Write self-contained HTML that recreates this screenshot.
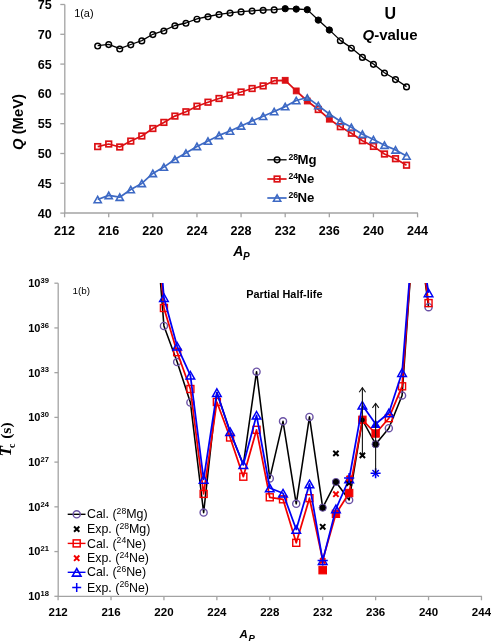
<!DOCTYPE html>
<html><head><meta charset="utf-8"><title>Q-value and partial half-life</title>
<style>
html,body{margin:0;padding:0;background:#fff;}
body{width:491px;height:641px;overflow:hidden;font-family:"Liberation Sans", sans-serif;}
svg{display:block;will-change:transform;}
</style></head>
<body>
<svg width="491" height="641" viewBox="0 0 491 641">
<rect width="491" height="641" fill="#fff"/>
<g>
<line x1="64.8" y1="4.5" x2="64.8" y2="213.1" stroke="#a3a3a3" stroke-width="1.3"/>
<line x1="64.2" y1="213" x2="417.9" y2="213" stroke="#a3a3a3" stroke-width="1.3"/>
<line x1="60.3" y1="4.5" x2="64.8" y2="4.5" stroke="#a3a3a3" stroke-width="1.3"/>
<text x="51.7" y="9" font-family='"Liberation Sans", sans-serif' font-size="12.6" font-weight="bold" font-style="normal" text-anchor="end" fill="#000" >75</text>
<line x1="60.3" y1="34.3" x2="64.8" y2="34.3" stroke="#a3a3a3" stroke-width="1.3"/>
<text x="51.7" y="38.8" font-family='"Liberation Sans", sans-serif' font-size="12.6" font-weight="bold" font-style="normal" text-anchor="end" fill="#000" >70</text>
<line x1="60.3" y1="64.1" x2="64.8" y2="64.1" stroke="#a3a3a3" stroke-width="1.3"/>
<text x="51.7" y="68.6" font-family='"Liberation Sans", sans-serif' font-size="12.6" font-weight="bold" font-style="normal" text-anchor="end" fill="#000" >65</text>
<line x1="60.3" y1="93.9" x2="64.8" y2="93.9" stroke="#a3a3a3" stroke-width="1.3"/>
<text x="51.7" y="98.4" font-family='"Liberation Sans", sans-serif' font-size="12.6" font-weight="bold" font-style="normal" text-anchor="end" fill="#000" >60</text>
<line x1="60.3" y1="123.7" x2="64.8" y2="123.7" stroke="#a3a3a3" stroke-width="1.3"/>
<text x="51.7" y="128.2" font-family='"Liberation Sans", sans-serif' font-size="12.6" font-weight="bold" font-style="normal" text-anchor="end" fill="#000" >55</text>
<line x1="60.3" y1="153.5" x2="64.8" y2="153.5" stroke="#a3a3a3" stroke-width="1.3"/>
<text x="51.7" y="158" font-family='"Liberation Sans", sans-serif' font-size="12.6" font-weight="bold" font-style="normal" text-anchor="end" fill="#000" >50</text>
<line x1="60.3" y1="183.3" x2="64.8" y2="183.3" stroke="#a3a3a3" stroke-width="1.3"/>
<text x="51.7" y="187.8" font-family='"Liberation Sans", sans-serif' font-size="12.6" font-weight="bold" font-style="normal" text-anchor="end" fill="#000" >45</text>
<line x1="60.3" y1="213.1" x2="64.8" y2="213.1" stroke="#a3a3a3" stroke-width="1.3"/>
<text x="51.7" y="217.6" font-family='"Liberation Sans", sans-serif' font-size="12.6" font-weight="bold" font-style="normal" text-anchor="end" fill="#000" >40</text>
<line x1="64.6" y1="213" x2="64.6" y2="217.3" stroke="#a3a3a3" stroke-width="1.3"/>
<text x="64.6" y="235.3" font-family='"Liberation Sans", sans-serif' font-size="12.6" font-weight="bold" font-style="normal" text-anchor="middle" fill="#000" >212</text>
<line x1="108.72" y1="213" x2="108.72" y2="217.3" stroke="#a3a3a3" stroke-width="1.3"/>
<text x="108.72" y="235.3" font-family='"Liberation Sans", sans-serif' font-size="12.6" font-weight="bold" font-style="normal" text-anchor="middle" fill="#000" >216</text>
<line x1="152.84" y1="213" x2="152.84" y2="217.3" stroke="#a3a3a3" stroke-width="1.3"/>
<text x="152.84" y="235.3" font-family='"Liberation Sans", sans-serif' font-size="12.6" font-weight="bold" font-style="normal" text-anchor="middle" fill="#000" >220</text>
<line x1="196.96" y1="213" x2="196.96" y2="217.3" stroke="#a3a3a3" stroke-width="1.3"/>
<text x="196.96" y="235.3" font-family='"Liberation Sans", sans-serif' font-size="12.6" font-weight="bold" font-style="normal" text-anchor="middle" fill="#000" >224</text>
<line x1="241.08" y1="213" x2="241.08" y2="217.3" stroke="#a3a3a3" stroke-width="1.3"/>
<text x="241.08" y="235.3" font-family='"Liberation Sans", sans-serif' font-size="12.6" font-weight="bold" font-style="normal" text-anchor="middle" fill="#000" >228</text>
<line x1="285.2" y1="213" x2="285.2" y2="217.3" stroke="#a3a3a3" stroke-width="1.3"/>
<text x="285.2" y="235.3" font-family='"Liberation Sans", sans-serif' font-size="12.6" font-weight="bold" font-style="normal" text-anchor="middle" fill="#000" >232</text>
<line x1="329.32" y1="213" x2="329.32" y2="217.3" stroke="#a3a3a3" stroke-width="1.3"/>
<text x="329.32" y="235.3" font-family='"Liberation Sans", sans-serif' font-size="12.6" font-weight="bold" font-style="normal" text-anchor="middle" fill="#000" >236</text>
<line x1="373.44" y1="213" x2="373.44" y2="217.3" stroke="#a3a3a3" stroke-width="1.3"/>
<text x="373.44" y="235.3" font-family='"Liberation Sans", sans-serif' font-size="12.6" font-weight="bold" font-style="normal" text-anchor="middle" fill="#000" >240</text>
<line x1="417.56" y1="213" x2="417.56" y2="217.3" stroke="#a3a3a3" stroke-width="1.3"/>
<text x="417.56" y="235.3" font-family='"Liberation Sans", sans-serif' font-size="12.6" font-weight="bold" font-style="normal" text-anchor="middle" fill="#000" >244</text>
</g>
<text x="233.2" y="256" font-family='"Liberation Sans", sans-serif' font-size="14" font-weight="bold" font-style="italic" text-anchor="start" fill="#000" >A</text>
<text x="243" y="259.6" font-family='"Liberation Sans", sans-serif' font-size="10" font-weight="bold" font-style="italic" text-anchor="start" fill="#000" >P</text>
<text transform="translate(22.8 122) rotate(-90)" x="0" y="0" font-family='"Liberation Sans", sans-serif' font-size="14.8" font-weight="bold" text-anchor="middle"><tspan font-style="italic">Q</tspan> (MeV)</text>
<text x="390.3" y="19.1" font-family='"Liberation Sans", sans-serif' font-size="16" font-weight="bold" font-style="normal" text-anchor="middle" fill="#000" >U</text>
<text x="390" y="39.9" font-family='"Liberation Sans", sans-serif' font-size="15" font-weight="bold" text-anchor="middle"><tspan font-style="italic">Q</tspan>-value</text>
<text x="74.2" y="17.2" font-family='"Liberation Sans", sans-serif' font-size="10.9" font-weight="normal" font-style="normal" text-anchor="start" fill="#000" >1(a)</text>
<polyline points="97.69,45.7 108.72,44.3 119.75,48.7 130.78,44.5 141.81,40.6 152.84,34.3 163.87,30.7 174.9,25.5 185.93,23 196.96,18.9 207.99,16.5 219.02,14.3 230.05,12.8 241.08,11.6 252.11,10.8 263.14,10 274.17,9.6 285.2,8.6 296.23,9 307.26,9.6 318.29,20 329.32,29.9 340.35,40.4 351.38,47.9 362.41,57.1 373.44,64 384.47,72.7 395.5,79.3 406.53,86.6" fill="none" stroke="#000" stroke-width="1.3" stroke-linejoin="round" />
<circle cx="97.69" cy="46" r="2.85" fill="none" stroke="#000" stroke-width="1.45"/>
<circle cx="108.72" cy="44.6" r="2.85" fill="none" stroke="#000" stroke-width="1.45"/>
<circle cx="119.75" cy="49" r="2.85" fill="none" stroke="#000" stroke-width="1.45"/>
<circle cx="130.78" cy="44.8" r="2.85" fill="none" stroke="#000" stroke-width="1.45"/>
<circle cx="141.81" cy="40.9" r="2.85" fill="none" stroke="#000" stroke-width="1.45"/>
<circle cx="152.84" cy="34.6" r="2.85" fill="none" stroke="#000" stroke-width="1.45"/>
<circle cx="163.87" cy="31" r="2.85" fill="none" stroke="#000" stroke-width="1.45"/>
<circle cx="174.9" cy="25.8" r="2.85" fill="none" stroke="#000" stroke-width="1.45"/>
<circle cx="185.93" cy="23.3" r="2.85" fill="none" stroke="#000" stroke-width="1.45"/>
<circle cx="196.96" cy="19.2" r="2.85" fill="none" stroke="#000" stroke-width="1.45"/>
<circle cx="207.99" cy="16.8" r="2.85" fill="none" stroke="#000" stroke-width="1.45"/>
<circle cx="219.02" cy="14.6" r="2.85" fill="none" stroke="#000" stroke-width="1.45"/>
<circle cx="230.05" cy="13.1" r="2.85" fill="none" stroke="#000" stroke-width="1.45"/>
<circle cx="241.08" cy="11.9" r="2.85" fill="none" stroke="#000" stroke-width="1.45"/>
<circle cx="252.11" cy="11.1" r="2.85" fill="none" stroke="#000" stroke-width="1.45"/>
<circle cx="263.14" cy="10.3" r="2.85" fill="none" stroke="#000" stroke-width="1.45"/>
<circle cx="274.17" cy="9.9" r="2.85" fill="none" stroke="#000" stroke-width="1.45"/>
<circle cx="285.2" cy="8.7" r="3.15" fill="#000" stroke="#000" stroke-width="1"/>
<circle cx="296.23" cy="9.1" r="3.15" fill="#000" stroke="#000" stroke-width="1"/>
<circle cx="307.26" cy="9.7" r="3.15" fill="#000" stroke="#000" stroke-width="1"/>
<circle cx="318.29" cy="20.1" r="3.15" fill="#000" stroke="#000" stroke-width="1"/>
<circle cx="329.32" cy="30" r="3.15" fill="#000" stroke="#000" stroke-width="1"/>
<circle cx="340.35" cy="40.7" r="2.85" fill="none" stroke="#000" stroke-width="1.45"/>
<circle cx="351.38" cy="48.2" r="2.85" fill="none" stroke="#000" stroke-width="1.45"/>
<circle cx="362.41" cy="57.4" r="2.85" fill="none" stroke="#000" stroke-width="1.45"/>
<circle cx="373.44" cy="64.3" r="2.85" fill="none" stroke="#000" stroke-width="1.45"/>
<circle cx="384.47" cy="73" r="2.85" fill="none" stroke="#000" stroke-width="1.45"/>
<circle cx="395.5" cy="79.6" r="2.85" fill="none" stroke="#000" stroke-width="1.45"/>
<circle cx="406.53" cy="86.9" r="2.85" fill="none" stroke="#000" stroke-width="1.45"/>
<polyline points="97.69,146.6 108.72,144 119.75,147 130.78,141.1 141.81,136 152.84,128.5 163.87,122.4 174.9,116.1 185.93,111.8 196.96,106.2 207.99,102.2 219.02,98.5 230.05,95.2 241.08,92 252.11,88.5 263.14,85.9 274.17,80.7 285.2,80.3 296.23,90.9 307.26,101 318.29,109.5 329.32,119.2 340.35,126.7 351.38,133.2 362.41,140.7 373.44,146.4 384.47,154 395.5,158.7 406.53,165.2" fill="none" stroke="#dc1014" stroke-width="1.7" stroke-linejoin="round" />
<rect x="94.89" y="143.8" width="5.6" height="5.6" fill="none" stroke="#dc1014" stroke-width="1.7"/>
<rect x="105.92" y="141.2" width="5.6" height="5.6" fill="none" stroke="#dc1014" stroke-width="1.7"/>
<rect x="116.95" y="144.2" width="5.6" height="5.6" fill="none" stroke="#dc1014" stroke-width="1.7"/>
<rect x="127.98" y="138.3" width="5.6" height="5.6" fill="none" stroke="#dc1014" stroke-width="1.7"/>
<rect x="139.01" y="133.2" width="5.6" height="5.6" fill="none" stroke="#dc1014" stroke-width="1.7"/>
<rect x="150.04" y="125.7" width="5.6" height="5.6" fill="none" stroke="#dc1014" stroke-width="1.7"/>
<rect x="161.07" y="119.6" width="5.6" height="5.6" fill="none" stroke="#dc1014" stroke-width="1.7"/>
<rect x="172.1" y="113.3" width="5.6" height="5.6" fill="none" stroke="#dc1014" stroke-width="1.7"/>
<rect x="183.13" y="109" width="5.6" height="5.6" fill="none" stroke="#dc1014" stroke-width="1.7"/>
<rect x="194.16" y="103.4" width="5.6" height="5.6" fill="none" stroke="#dc1014" stroke-width="1.7"/>
<rect x="205.19" y="99.4" width="5.6" height="5.6" fill="none" stroke="#dc1014" stroke-width="1.7"/>
<rect x="216.22" y="95.7" width="5.6" height="5.6" fill="none" stroke="#dc1014" stroke-width="1.7"/>
<rect x="227.25" y="92.4" width="5.6" height="5.6" fill="none" stroke="#dc1014" stroke-width="1.7"/>
<rect x="238.28" y="89.2" width="5.6" height="5.6" fill="none" stroke="#dc1014" stroke-width="1.7"/>
<rect x="249.31" y="85.7" width="5.6" height="5.6" fill="none" stroke="#dc1014" stroke-width="1.7"/>
<rect x="260.34" y="83.1" width="5.6" height="5.6" fill="none" stroke="#dc1014" stroke-width="1.7"/>
<rect x="271.37" y="77.9" width="5.6" height="5.6" fill="none" stroke="#dc1014" stroke-width="1.7"/>
<rect x="282.3" y="77.4" width="5.8" height="5.8" fill="#dc1014" stroke="#dc1014" stroke-width="1"/>
<rect x="293.33" y="88" width="5.8" height="5.8" fill="#dc1014" stroke="#dc1014" stroke-width="1"/>
<rect x="304.36" y="98.1" width="5.8" height="5.8" fill="#dc1014" stroke="#dc1014" stroke-width="1"/>
<rect x="315.49" y="106.7" width="5.6" height="5.6" fill="none" stroke="#dc1014" stroke-width="1.7"/>
<rect x="326.42" y="116.3" width="5.8" height="5.8" fill="#dc1014" stroke="#dc1014" stroke-width="1"/>
<rect x="337.55" y="123.9" width="5.6" height="5.6" fill="none" stroke="#dc1014" stroke-width="1.7"/>
<rect x="348.58" y="130.4" width="5.6" height="5.6" fill="none" stroke="#dc1014" stroke-width="1.7"/>
<rect x="359.61" y="137.9" width="5.6" height="5.6" fill="none" stroke="#dc1014" stroke-width="1.7"/>
<rect x="370.64" y="143.6" width="5.6" height="5.6" fill="none" stroke="#dc1014" stroke-width="1.7"/>
<rect x="381.67" y="151.2" width="5.6" height="5.6" fill="none" stroke="#dc1014" stroke-width="1.7"/>
<rect x="392.7" y="155.9" width="5.6" height="5.6" fill="none" stroke="#dc1014" stroke-width="1.7"/>
<rect x="403.73" y="162.4" width="5.6" height="5.6" fill="none" stroke="#dc1014" stroke-width="1.7"/>
<polyline points="97.69,199.5 108.72,195.4 119.75,197.2 130.78,189.5 141.81,183.4 152.84,173.4 163.87,167.1 174.9,159.3 185.93,153.1 196.96,146.4 207.99,141.1 219.02,135.4 230.05,131 241.08,125.9 252.11,121 263.14,116.3 274.17,111.5 285.2,106.6 296.23,100.5 307.26,97.5 318.29,105.6 329.32,114 340.35,121.3 351.38,127.3 362.41,134.2 373.44,139.5 384.47,145.2 395.5,149.9 406.53,156" fill="none" stroke="#3d69c4" stroke-width="1.7" stroke-linejoin="round" />
<polygon points="97.69,196.3 101.29,202.7 94.09,202.7" fill="none" stroke="#3d69c4" stroke-width="1.6" stroke-linejoin="miter"/>
<polygon points="108.72,192.2 112.32,198.6 105.12,198.6" fill="none" stroke="#3d69c4" stroke-width="1.6" stroke-linejoin="miter"/>
<polygon points="119.75,194 123.35,200.4 116.15,200.4" fill="none" stroke="#3d69c4" stroke-width="1.6" stroke-linejoin="miter"/>
<polygon points="130.78,186.3 134.38,192.7 127.18,192.7" fill="none" stroke="#3d69c4" stroke-width="1.6" stroke-linejoin="miter"/>
<polygon points="141.81,180.2 145.41,186.6 138.21,186.6" fill="none" stroke="#3d69c4" stroke-width="1.6" stroke-linejoin="miter"/>
<polygon points="152.84,170.2 156.44,176.6 149.24,176.6" fill="none" stroke="#3d69c4" stroke-width="1.6" stroke-linejoin="miter"/>
<polygon points="163.87,163.9 167.47,170.3 160.27,170.3" fill="none" stroke="#3d69c4" stroke-width="1.6" stroke-linejoin="miter"/>
<polygon points="174.9,156.1 178.5,162.5 171.3,162.5" fill="none" stroke="#3d69c4" stroke-width="1.6" stroke-linejoin="miter"/>
<polygon points="185.93,149.9 189.53,156.3 182.33,156.3" fill="none" stroke="#3d69c4" stroke-width="1.6" stroke-linejoin="miter"/>
<polygon points="196.96,143.2 200.56,149.6 193.36,149.6" fill="none" stroke="#3d69c4" stroke-width="1.6" stroke-linejoin="miter"/>
<polygon points="207.99,137.9 211.59,144.3 204.39,144.3" fill="none" stroke="#3d69c4" stroke-width="1.6" stroke-linejoin="miter"/>
<polygon points="219.02,132.2 222.62,138.6 215.42,138.6" fill="none" stroke="#3d69c4" stroke-width="1.6" stroke-linejoin="miter"/>
<polygon points="230.05,127.8 233.65,134.2 226.45,134.2" fill="none" stroke="#3d69c4" stroke-width="1.6" stroke-linejoin="miter"/>
<polygon points="241.08,122.7 244.68,129.1 237.48,129.1" fill="none" stroke="#3d69c4" stroke-width="1.6" stroke-linejoin="miter"/>
<polygon points="252.11,117.8 255.71,124.2 248.51,124.2" fill="none" stroke="#3d69c4" stroke-width="1.6" stroke-linejoin="miter"/>
<polygon points="263.14,113.1 266.74,119.5 259.54,119.5" fill="none" stroke="#3d69c4" stroke-width="1.6" stroke-linejoin="miter"/>
<polygon points="274.17,108.3 277.77,114.7 270.57,114.7" fill="none" stroke="#3d69c4" stroke-width="1.6" stroke-linejoin="miter"/>
<polygon points="285.2,103.4 288.8,109.8 281.6,109.8" fill="none" stroke="#3d69c4" stroke-width="1.6" stroke-linejoin="miter"/>
<polygon points="296.23,97.3 299.83,103.7 292.63,103.7" fill="none" stroke="#3d69c4" stroke-width="1.6" stroke-linejoin="miter"/>
<polygon points="307.26,94.7 310.26,100.3 304.26,100.3" fill="#5a80c8" stroke="#3563b8" stroke-width="1.4" stroke-linejoin="miter"/>
<polygon points="318.29,102.4 321.89,108.8 314.69,108.8" fill="none" stroke="#3d69c4" stroke-width="1.6" stroke-linejoin="miter"/>
<polygon points="329.32,111.2 332.32,116.8 326.32,116.8" fill="#5a80c8" stroke="#3563b8" stroke-width="1.4" stroke-linejoin="miter"/>
<polygon points="340.35,118.1 343.95,124.5 336.75,124.5" fill="none" stroke="#3d69c4" stroke-width="1.6" stroke-linejoin="miter"/>
<polygon points="351.38,124.1 354.98,130.5 347.78,130.5" fill="none" stroke="#3d69c4" stroke-width="1.6" stroke-linejoin="miter"/>
<polygon points="362.41,131 366.01,137.4 358.81,137.4" fill="none" stroke="#3d69c4" stroke-width="1.6" stroke-linejoin="miter"/>
<polygon points="373.44,136.3 377.04,142.7 369.84,142.7" fill="none" stroke="#3d69c4" stroke-width="1.6" stroke-linejoin="miter"/>
<polygon points="384.47,142 388.07,148.4 380.87,148.4" fill="none" stroke="#3d69c4" stroke-width="1.6" stroke-linejoin="miter"/>
<polygon points="395.5,146.7 399.1,153.1 391.9,153.1" fill="none" stroke="#3d69c4" stroke-width="1.6" stroke-linejoin="miter"/>
<polygon points="406.53,152.8 410.13,159.2 402.93,159.2" fill="none" stroke="#3d69c4" stroke-width="1.6" stroke-linejoin="miter"/>
<line x1="267.3" y1="159.8" x2="286.6" y2="159.8" stroke="#000" stroke-width="1.3"/>
<circle cx="277.1" cy="159.8" r="2.85" fill="none" stroke="#000" stroke-width="1.45"/>
<text x="288.6" y="159.5" font-family='"Liberation Sans", sans-serif' font-size="8.6" font-weight="bold" font-style="normal" text-anchor="start" fill="#000" >28</text>
<text x="297.6" y="164.1" font-family='"Liberation Sans", sans-serif' font-size="13.2" font-weight="bold" font-style="normal" text-anchor="start" fill="#000" >Mg</text>
<line x1="267.3" y1="179" x2="286.6" y2="179" stroke="#dc1014" stroke-width="1.7"/>
<rect x="274.3" y="176.2" width="5.6" height="5.6" fill="none" stroke="#dc1014" stroke-width="1.7"/>
<text x="288.6" y="178.7" font-family='"Liberation Sans", sans-serif' font-size="8.6" font-weight="bold" font-style="normal" text-anchor="start" fill="#000" >24</text>
<text x="297.6" y="183.3" font-family='"Liberation Sans", sans-serif' font-size="13.2" font-weight="bold" font-style="normal" text-anchor="start" fill="#000" >Ne</text>
<line x1="267.3" y1="198" x2="286.6" y2="198" stroke="#3d69c4" stroke-width="1.7"/>
<polygon points="277.1,194.8 280.7,201.2 273.5,201.2" fill="none" stroke="#3d69c4" stroke-width="1.6" stroke-linejoin="miter"/>
<text x="288.6" y="197.7" font-family='"Liberation Sans", sans-serif' font-size="8.6" font-weight="bold" font-style="normal" text-anchor="start" fill="#000" >26</text>
<text x="297.6" y="202.3" font-family='"Liberation Sans", sans-serif' font-size="13.2" font-weight="bold" font-style="normal" text-anchor="start" fill="#000" >Ne</text>
<g>
<line x1="58.2" y1="283.2" x2="58.2" y2="596.3" stroke="#a3a3a3" stroke-width="1.3"/>
<line x1="57.6" y1="596.3" x2="482" y2="596.3" stroke="#a3a3a3" stroke-width="1.3"/>
<line x1="54.4" y1="283.2" x2="58.2" y2="283.2" stroke="#a3a3a3" stroke-width="1.3"/>
<text x="40.4" y="287.1" font-family='"Liberation Sans", sans-serif' font-size="11" font-weight="bold" text-anchor="end">10</text>
<text x="40.6" y="283" font-family='"Liberation Sans", sans-serif' font-size="7.6" font-weight="bold">39</text>
<line x1="54.4" y1="327.93" x2="58.2" y2="327.93" stroke="#a3a3a3" stroke-width="1.3"/>
<text x="40.4" y="331.83" font-family='"Liberation Sans", sans-serif' font-size="11" font-weight="bold" text-anchor="end">10</text>
<text x="40.6" y="327.73" font-family='"Liberation Sans", sans-serif' font-size="7.6" font-weight="bold">36</text>
<line x1="54.4" y1="372.66" x2="58.2" y2="372.66" stroke="#a3a3a3" stroke-width="1.3"/>
<text x="40.4" y="376.56" font-family='"Liberation Sans", sans-serif' font-size="11" font-weight="bold" text-anchor="end">10</text>
<text x="40.6" y="372.46" font-family='"Liberation Sans", sans-serif' font-size="7.6" font-weight="bold">33</text>
<line x1="54.4" y1="417.39" x2="58.2" y2="417.39" stroke="#a3a3a3" stroke-width="1.3"/>
<text x="40.4" y="421.29" font-family='"Liberation Sans", sans-serif' font-size="11" font-weight="bold" text-anchor="end">10</text>
<text x="40.6" y="417.19" font-family='"Liberation Sans", sans-serif' font-size="7.6" font-weight="bold">30</text>
<line x1="54.4" y1="462.11" x2="58.2" y2="462.11" stroke="#a3a3a3" stroke-width="1.3"/>
<text x="40.4" y="466.01" font-family='"Liberation Sans", sans-serif' font-size="11" font-weight="bold" text-anchor="end">10</text>
<text x="40.6" y="461.91" font-family='"Liberation Sans", sans-serif' font-size="7.6" font-weight="bold">27</text>
<line x1="54.4" y1="506.84" x2="58.2" y2="506.84" stroke="#a3a3a3" stroke-width="1.3"/>
<text x="40.4" y="510.74" font-family='"Liberation Sans", sans-serif' font-size="11" font-weight="bold" text-anchor="end">10</text>
<text x="40.6" y="506.64" font-family='"Liberation Sans", sans-serif' font-size="7.6" font-weight="bold">24</text>
<line x1="54.4" y1="551.57" x2="58.2" y2="551.57" stroke="#a3a3a3" stroke-width="1.3"/>
<text x="40.4" y="555.47" font-family='"Liberation Sans", sans-serif' font-size="11" font-weight="bold" text-anchor="end">10</text>
<text x="40.6" y="551.37" font-family='"Liberation Sans", sans-serif' font-size="7.6" font-weight="bold">21</text>
<line x1="54.4" y1="596.3" x2="58.2" y2="596.3" stroke="#a3a3a3" stroke-width="1.3"/>
<text x="40.4" y="600.2" font-family='"Liberation Sans", sans-serif' font-size="11" font-weight="bold" text-anchor="end">10</text>
<text x="40.6" y="596.1" font-family='"Liberation Sans", sans-serif' font-size="7.6" font-weight="bold">18</text>
<line x1="58.1" y1="596.3" x2="58.1" y2="600.3" stroke="#a3a3a3" stroke-width="1.3"/>
<text x="58.1" y="615.9" font-family='"Liberation Sans", sans-serif' font-size="11.5" font-weight="bold" font-style="normal" text-anchor="middle" fill="#000" >212</text>
<line x1="111.02" y1="596.3" x2="111.02" y2="600.3" stroke="#a3a3a3" stroke-width="1.3"/>
<text x="111.02" y="615.9" font-family='"Liberation Sans", sans-serif' font-size="11.5" font-weight="bold" font-style="normal" text-anchor="middle" fill="#000" >216</text>
<line x1="163.94" y1="596.3" x2="163.94" y2="600.3" stroke="#a3a3a3" stroke-width="1.3"/>
<text x="163.94" y="615.9" font-family='"Liberation Sans", sans-serif' font-size="11.5" font-weight="bold" font-style="normal" text-anchor="middle" fill="#000" >220</text>
<line x1="216.86" y1="596.3" x2="216.86" y2="600.3" stroke="#a3a3a3" stroke-width="1.3"/>
<text x="216.86" y="615.9" font-family='"Liberation Sans", sans-serif' font-size="11.5" font-weight="bold" font-style="normal" text-anchor="middle" fill="#000" >224</text>
<line x1="269.78" y1="596.3" x2="269.78" y2="600.3" stroke="#a3a3a3" stroke-width="1.3"/>
<text x="269.78" y="615.9" font-family='"Liberation Sans", sans-serif' font-size="11.5" font-weight="bold" font-style="normal" text-anchor="middle" fill="#000" >228</text>
<line x1="322.7" y1="596.3" x2="322.7" y2="600.3" stroke="#a3a3a3" stroke-width="1.3"/>
<text x="322.7" y="615.9" font-family='"Liberation Sans", sans-serif' font-size="11.5" font-weight="bold" font-style="normal" text-anchor="middle" fill="#000" >232</text>
<line x1="375.62" y1="596.3" x2="375.62" y2="600.3" stroke="#a3a3a3" stroke-width="1.3"/>
<text x="375.62" y="615.9" font-family='"Liberation Sans", sans-serif' font-size="11.5" font-weight="bold" font-style="normal" text-anchor="middle" fill="#000" >236</text>
<line x1="428.54" y1="596.3" x2="428.54" y2="600.3" stroke="#a3a3a3" stroke-width="1.3"/>
<text x="428.54" y="615.9" font-family='"Liberation Sans", sans-serif' font-size="11.5" font-weight="bold" font-style="normal" text-anchor="middle" fill="#000" >240</text>
<line x1="481.46" y1="596.3" x2="481.46" y2="600.3" stroke="#a3a3a3" stroke-width="1.3"/>
<text x="481.46" y="615.9" font-family='"Liberation Sans", sans-serif' font-size="11.5" font-weight="bold" font-style="normal" text-anchor="middle" fill="#000" >244</text>
</g>
<text x="239.5" y="637.7" font-family='"Liberation Sans", sans-serif' font-size="11.5" font-weight="bold" font-style="italic" text-anchor="start" fill="#000" >A</text>
<text x="248.6" y="640.6" font-family='"Liberation Sans", sans-serif' font-size="9.5" font-weight="bold" font-style="italic" text-anchor="start" fill="#000" >P</text>
<text transform="translate(10.9 456.4) rotate(-90)" font-family='"Liberation Serif", serif' font-size="17" font-weight="bold" font-style="italic">T</text>
<text transform="translate(14.5 448) rotate(-90)" font-family='"Liberation Serif", serif' font-size="10" font-weight="bold">c</text>
<text transform="translate(10.9 438.8) rotate(-90)" font-family='"Liberation Serif", serif' font-size="15.5" font-weight="bold">(s)</text>
<text x="72.4" y="294" font-family='"Liberation Sans", sans-serif' font-size="9.9" font-weight="normal" font-style="normal" text-anchor="start" fill="#000" >1(b)</text>
<text x="246.2" y="297.6" font-family='"Liberation Sans", sans-serif' font-size="10.9" font-weight="bold" font-style="normal" text-anchor="start" fill="#000" >Partial Half-life</text>
<defs><clipPath id="pb"><rect x="58" y="282.9" width="430" height="313.1"/></clipPath></defs>
<g clip-path="url(#pb)"><polyline points="150.71,159 163.94,325.9 177.17,362.1 190.4,402.4 203.63,512.6 216.86,392.6 230.09,431.7 243.32,464.7 256.55,371.7 269.78,478.4 283.01,421.3 296.24,503.8 309.47,416.9 322.7,507.7 335.93,482 349.16,500 362.39,420 375.62,444.2 388.85,428.2 402.08,395.5 415.31,206 428.54,307.2" fill="none" stroke="#000" stroke-width="1.55" stroke-linejoin="round" /></g>
<circle cx="163.94" cy="325.9" r="3.55" fill="none" stroke="#6b52a6" stroke-width="1.4"/>
<circle cx="177.17" cy="362.1" r="3.55" fill="none" stroke="#6b52a6" stroke-width="1.4"/>
<circle cx="190.4" cy="402.4" r="3.55" fill="none" stroke="#6b52a6" stroke-width="1.4"/>
<circle cx="203.63" cy="512.6" r="3.55" fill="none" stroke="#6b52a6" stroke-width="1.4"/>
<circle cx="256.55" cy="371.7" r="3.55" fill="none" stroke="#6b52a6" stroke-width="1.4"/>
<circle cx="269.78" cy="478.4" r="3.55" fill="none" stroke="#6b52a6" stroke-width="1.4"/>
<circle cx="283.01" cy="421.3" r="3.55" fill="none" stroke="#6b52a6" stroke-width="1.4"/>
<circle cx="296.24" cy="503.8" r="3.55" fill="none" stroke="#6b52a6" stroke-width="1.4"/>
<circle cx="309.47" cy="416.9" r="3.55" fill="none" stroke="#6b52a6" stroke-width="1.4"/>
<circle cx="322.7" cy="507.7" r="3.6" fill="#000" stroke="#6b52a6" stroke-width="1"/>
<circle cx="335.93" cy="482" r="3.6" fill="#000" stroke="#6b52a6" stroke-width="1"/>
<circle cx="349.16" cy="500" r="3.55" fill="none" stroke="#6b52a6" stroke-width="1.4"/>
<circle cx="362.39" cy="420" r="3.6" fill="#000" stroke="#6b52a6" stroke-width="1"/>
<circle cx="375.62" cy="444.2" r="3.6" fill="#000" stroke="#6b52a6" stroke-width="1"/>
<circle cx="388.85" cy="428.2" r="3.55" fill="none" stroke="#6b52a6" stroke-width="1.4"/>
<circle cx="402.08" cy="395.5" r="3.55" fill="none" stroke="#6b52a6" stroke-width="1.4"/>
<circle cx="428.54" cy="307.2" r="3.55" fill="none" stroke="#6b52a6" stroke-width="1.4"/>
<g clip-path="url(#pb)"><polyline points="150.71,151 163.94,308 177.17,352.2 190.4,389 203.63,493.9 216.86,402 230.09,437.5 243.32,476.7 256.55,429.8 269.78,497.3 283.01,499.3 296.24,542.8 309.47,498.2 322.7,560 335.93,513.8 349.16,493 362.39,419.8 375.62,433.5 388.85,418.2 402.08,386.3 415.31,206 428.54,303.1" fill="none" stroke="#f20000" stroke-width="1.75" stroke-linejoin="round" /></g>
<rect x="160.44" y="304.5" width="7" height="7" fill="none" stroke="#f20000" stroke-width="1.4"/>
<rect x="173.67" y="348.7" width="7" height="7" fill="none" stroke="#f20000" stroke-width="1.4"/>
<rect x="186.9" y="385.5" width="7" height="7" fill="none" stroke="#f20000" stroke-width="1.4"/>
<rect x="200.13" y="490.4" width="7" height="7" fill="none" stroke="#f20000" stroke-width="1.4"/>
<rect x="213.36" y="398.5" width="7" height="7" fill="none" stroke="#f20000" stroke-width="1.4"/>
<rect x="226.59" y="434" width="7" height="7" fill="none" stroke="#f20000" stroke-width="1.4"/>
<rect x="239.82" y="473.2" width="7" height="7" fill="none" stroke="#f20000" stroke-width="1.4"/>
<rect x="253.05" y="426.3" width="7" height="7" fill="none" stroke="#f20000" stroke-width="1.4"/>
<rect x="266.28" y="493.8" width="7" height="7" fill="none" stroke="#f20000" stroke-width="1.4"/>
<rect x="279.51" y="495.8" width="7" height="7" fill="none" stroke="#f20000" stroke-width="1.4"/>
<rect x="292.74" y="539.3" width="7" height="7" fill="none" stroke="#f20000" stroke-width="1.4"/>
<rect x="305.97" y="494.7" width="7" height="7" fill="none" stroke="#f20000" stroke-width="1.4"/>
<rect x="332.23" y="510.1" width="7.4" height="7.4" fill="#f20000" stroke="#f20000" stroke-width="1"/>
<rect x="345.46" y="489.3" width="7.4" height="7.4" fill="#f20000" stroke="#f20000" stroke-width="1"/>
<rect x="358.69" y="416.1" width="7.4" height="7.4" fill="#f20000" stroke="#f20000" stroke-width="1"/>
<rect x="371.92" y="429.8" width="7.4" height="7.4" fill="#f20000" stroke="#f20000" stroke-width="1"/>
<rect x="385.35" y="414.7" width="7" height="7" fill="none" stroke="#f20000" stroke-width="1.4"/>
<rect x="398.58" y="382.8" width="7" height="7" fill="none" stroke="#f20000" stroke-width="1.4"/>
<rect x="425.04" y="299.6" width="7" height="7" fill="none" stroke="#f20000" stroke-width="1.4"/>
<rect x="318.9" y="566.3" width="7.6" height="7.6" fill="#f20000" stroke="#f20000" stroke-width="1"/>
<circle cx="362.39" cy="420" r="2.2" fill="#000" stroke="#000" stroke-width="0.5"/>
<g clip-path="url(#pb)"><polyline points="150.71,137 163.94,297.7 177.17,346.3 190.4,375.3 203.63,479.4 216.86,392.6 230.09,431.7 243.32,464.7 256.55,415.3 269.78,488 283.01,493.2 296.24,529.5 309.47,484 322.7,560.7 335.93,508.9 349.16,479 362.39,405.3 375.62,424 388.85,413 402.08,372.6 415.31,206 428.54,292.9" fill="none" stroke="#0000f5" stroke-width="1.75" stroke-linejoin="round" /></g>
<polygon points="163.94,293.9 168.24,301.5 159.64,301.5" fill="none" stroke="#0000f5" stroke-width="1.5" stroke-linejoin="miter"/>
<polygon points="177.17,342.5 181.47,350.1 172.87,350.1" fill="none" stroke="#0000f5" stroke-width="1.5" stroke-linejoin="miter"/>
<polygon points="190.4,371.5 194.7,379.1 186.1,379.1" fill="none" stroke="#0000f5" stroke-width="1.5" stroke-linejoin="miter"/>
<polygon points="203.63,475.6 207.93,483.2 199.33,483.2" fill="none" stroke="#0000f5" stroke-width="1.5" stroke-linejoin="miter"/>
<polygon points="216.86,388.8 221.16,396.4 212.56,396.4" fill="none" stroke="#0000f5" stroke-width="1.5" stroke-linejoin="miter"/>
<polygon points="230.09,427.9 234.39,435.5 225.79,435.5" fill="none" stroke="#0000f5" stroke-width="1.5" stroke-linejoin="miter"/>
<polygon points="243.32,460.9 247.62,468.5 239.02,468.5" fill="none" stroke="#0000f5" stroke-width="1.5" stroke-linejoin="miter"/>
<polygon points="256.55,411.5 260.85,419.1 252.25,419.1" fill="none" stroke="#0000f5" stroke-width="1.5" stroke-linejoin="miter"/>
<polygon points="269.78,484.2 274.08,491.8 265.48,491.8" fill="none" stroke="#0000f5" stroke-width="1.5" stroke-linejoin="miter"/>
<polygon points="283.01,489.4 287.31,497 278.71,497" fill="none" stroke="#0000f5" stroke-width="1.5" stroke-linejoin="miter"/>
<polygon points="296.24,525.7 300.54,533.3 291.94,533.3" fill="none" stroke="#0000f5" stroke-width="1.5" stroke-linejoin="miter"/>
<polygon points="309.47,480.2 313.77,487.8 305.17,487.8" fill="none" stroke="#0000f5" stroke-width="1.5" stroke-linejoin="miter"/>
<polygon points="322.7,556.9 327,564.5 318.4,564.5" fill="none" stroke="#0000f5" stroke-width="1.5" stroke-linejoin="miter"/>
<polygon points="335.93,505.1 340.23,512.7 331.63,512.7" fill="none" stroke="#0000f5" stroke-width="1.5" stroke-linejoin="miter"/>
<polygon points="349.16,475.2 353.46,482.8 344.86,482.8" fill="none" stroke="#0000f5" stroke-width="1.5" stroke-linejoin="miter"/>
<polygon points="362.39,401.5 366.69,409.1 358.09,409.1" fill="none" stroke="#0000f5" stroke-width="1.5" stroke-linejoin="miter"/>
<polygon points="375.62,420.7 379.62,427.3 371.62,427.3" fill="#0000f5" stroke="#0000f5" stroke-width="1.2" stroke-linejoin="miter"/>
<polygon points="388.85,409.2 393.15,416.8 384.55,416.8" fill="none" stroke="#0000f5" stroke-width="1.5" stroke-linejoin="miter"/>
<polygon points="402.08,368.8 406.38,376.4 397.78,376.4" fill="none" stroke="#0000f5" stroke-width="1.5" stroke-linejoin="miter"/>
<polygon points="428.54,289.1 432.84,296.7 424.24,296.7" fill="none" stroke="#0000f5" stroke-width="1.5" stroke-linejoin="miter"/>
<path d="M320.05 524.15L325.35 529.45M320.05 529.45L325.35 524.15" stroke="#000" stroke-width="2" fill="none"/>
<path d="M333.28 450.75L338.58 456.05M333.28 456.05L338.58 450.75" stroke="#000" stroke-width="2" fill="none"/>
<path d="M346.51 480.45L351.81 485.75M346.51 485.75L351.81 480.45" stroke="#000" stroke-width="2" fill="none"/>
<path d="M333.28 491.55L338.58 496.85M333.28 496.85L338.58 491.55" stroke="#f20000" stroke-width="2" fill="none"/>
<path d="M346.51 475.75L351.81 481.05M346.51 481.05L351.81 475.75" stroke="#f20000" stroke-width="2" fill="none"/>
<path d="M320.05 558.25L325.35 563.55M320.05 563.55L325.35 558.25" stroke="#f20000" stroke-width="2" fill="none"/>
<path d="M344.06 478L354.26 478M349.16 472.9L349.16 483.1" stroke="#0000f5" stroke-width="1.6" fill="none"/>
<path d="M317.6 560.5L327.8 560.5M322.7 555.4L322.7 565.6" stroke="#0000f5" stroke-width="1.6" fill="none"/>
<path d="M370.62 473.3L380.62 473.3M375.62 468.3L375.62 478.3" stroke="#0000f5" stroke-width="1.6" fill="none"/>
<path d="M372.42 470.1L378.82 476.5M372.42 476.5L378.82 470.1" stroke="#0000f5" stroke-width="1.4" fill="none"/>
<line x1="362.39" y1="455.6" x2="362.39" y2="387.8" stroke="#111" stroke-width="1.1"/>
<path d="M359.19 392.3L362.39 387.8L365.59 392.3" stroke="#111" stroke-width="1.1" fill="none"/>
<line x1="375.62" y1="473.3" x2="375.62" y2="403.4" stroke="#111" stroke-width="1.1"/>
<path d="M372.42 407.9L375.62 403.4L378.82 407.9" stroke="#111" stroke-width="1.1" fill="none"/>
<path d="M359.74 452.75L365.04 458.05M359.74 458.05L365.04 452.75" stroke="#000" stroke-width="2" fill="none"/>
<line x1="67.7" y1="514.3" x2="85.5" y2="514.3" stroke="#000" stroke-width="1.4"/>
<circle cx="76.7" cy="514.3" r="3.55" fill="none" stroke="#6b52a6" stroke-width="1.4"/>
<text x="87" y="518.4" font-family='"Liberation Sans", sans-serif' font-size="12.4" letter-spacing="0" fill="#000">Cal. (<tspan font-size="8.6" dy="-4.4">28</tspan><tspan dy="4.4">Mg)</tspan></text>
<path d="M74.05 526.45L79.35 531.75M74.05 531.75L79.35 526.45" stroke="#000" stroke-width="2" fill="none"/>
<text x="87" y="533.2" font-family='"Liberation Sans", sans-serif' font-size="12.4" letter-spacing="0" fill="#000">Exp. (<tspan font-size="8.6" dy="-4.4">28</tspan><tspan dy="4.4">Mg)</tspan></text>
<line x1="67.7" y1="543.4" x2="85.5" y2="543.4" stroke="#f20000" stroke-width="1.4"/>
<rect x="73.2" y="539.9" width="7" height="7" fill="none" stroke="#f20000" stroke-width="1.5"/>
<text x="87" y="547.5" font-family='"Liberation Sans", sans-serif' font-size="12.4" letter-spacing="0" fill="#000">Cal. (<tspan font-size="8.6" dy="-4.4">24</tspan><tspan dy="4.4">Ne)</tspan></text>
<path d="M74.05 555.55L79.35 560.85M74.05 560.85L79.35 555.55" stroke="#f20000" stroke-width="2" fill="none"/>
<text x="87" y="562.3" font-family='"Liberation Sans", sans-serif' font-size="12.4" letter-spacing="0" fill="#000">Exp. (<tspan font-size="8.6" dy="-4.4">24</tspan><tspan dy="4.4">Ne)</tspan></text>
<line x1="67.7" y1="572.3" x2="85.5" y2="572.3" stroke="#0000f5" stroke-width="1.4"/>
<polygon points="76.7,568.5 81,576.1 72.4,576.1" fill="none" stroke="#0000f5" stroke-width="1.6" stroke-linejoin="miter"/>
<text x="87" y="576.4" font-family='"Liberation Sans", sans-serif' font-size="12.4" letter-spacing="0" fill="#000">Cal. (<tspan font-size="8.6" dy="-4.4">26</tspan><tspan dy="4.4">Ne)</tspan></text>
<path d="M72.2 587.6L81.2 587.6M76.7 583.1L76.7 592.1" stroke="#0000f5" stroke-width="1.5" fill="none"/>
<text x="87" y="591.7" font-family='"Liberation Sans", sans-serif' font-size="12.4" letter-spacing="0" fill="#000">Exp. (<tspan font-size="8.6" dy="-4.4">26</tspan><tspan dy="4.4">Ne)</tspan></text>
</svg>
</body></html>
